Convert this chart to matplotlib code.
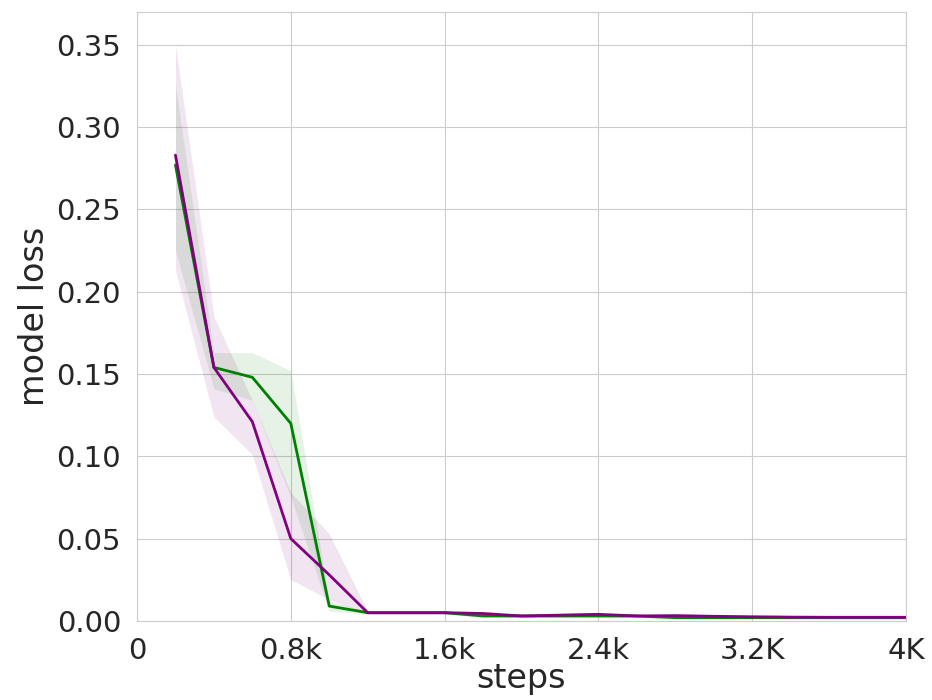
import matplotlib
matplotlib.use("Agg")
import matplotlib.pyplot as plt
import seaborn as sns

steps = [200, 400, 600, 800, 1000, 1200, 1400, 1600, 1800, 2000,
         2200, 2400, 2600, 2800, 3000, 3200, 3400, 3600, 3800, 4000]

green_mean = [0.277, 0.154, 0.148, 0.120, 0.009, 0.005, 0.005, 0.005, 0.003, 0.003,
              0.003, 0.003, 0.003, 0.002, 0.002, 0.002, 0.002, 0.002, 0.002, 0.002]
green_lo = [0.225, 0.141, 0.134, 0.075, 0.006, 0.004, 0.004, 0.004, 0.002, 0.002,
            0.002, 0.002, 0.002, 0.001, 0.001, 0.001, 0.001, 0.001, 0.001, 0.001]
green_hi = [0.326, 0.163, 0.163, 0.152, 0.012, 0.006, 0.006, 0.006, 0.004, 0.004,
            0.004, 0.004, 0.004, 0.003, 0.003, 0.003, 0.003, 0.003, 0.003, 0.003]

purple_mean = [0.283, 0.154, 0.121, 0.050, 0.028, 0.005, 0.005, 0.005, 0.0045, 0.003,
               0.0035, 0.004, 0.003, 0.0032, 0.0028, 0.0025, 0.0023, 0.0022, 0.0022, 0.0022]
purple_lo = [0.213, 0.124, 0.101, 0.025, 0.013, 0.004, 0.004, 0.004, 0.0035, 0.002,
             0.0025, 0.003, 0.002, 0.0022, 0.0018, 0.0015, 0.0013, 0.0012, 0.0012, 0.0012]
purple_hi = [0.350, 0.185, 0.134, 0.078, 0.053, 0.006, 0.006, 0.006, 0.0055, 0.004,
             0.0045, 0.005, 0.004, 0.0042, 0.0038, 0.0035, 0.0033, 0.0032, 0.0032, 0.0032]

xtick_pos = [0, 800, 1600, 2400, 3200, 4000]
xtick_labels = ['0', '0.8k', '1.6k', '2.4k', '3.2K', '4K']
ytick_pos = [0.00, 0.05, 0.10, 0.15, 0.20, 0.25, 0.30, 0.35]

sns.set_style("whitegrid")
fig, ax = plt.subplots(figsize=(9.32, 7), dpi=100)

ax.fill_between(steps, green_lo, green_hi, color='green', alpha=0.1, linewidth=0)
ax.fill_between(steps, purple_lo, purple_hi, color='purple', alpha=0.1, linewidth=0)
ax.plot(steps, green_mean, color='green', linewidth=2)
ax.plot(steps, purple_mean, color='purple', linewidth=2)

ax.set_xlim(0, 4000)
ax.set_ylim(0, 0.37)
ax.set_xticks(xtick_pos)
ax.set_xticklabels(xtick_labels)
ax.set_yticks(ytick_pos)
ax.set_yticklabels(['%.2f' % v for v in ytick_pos])
ax.tick_params(labelsize=21, colors='#262626', pad=8)
ax.set_xlabel('steps', fontsize=24, color='#262626', labelpad=-2)
ax.set_ylabel('model loss', fontsize=24, color='#262626', labelpad=4)

fig.subplots_adjust(left=0.147, right=0.972, top=0.983, bottom=0.113)
fig.savefig('out.png')
